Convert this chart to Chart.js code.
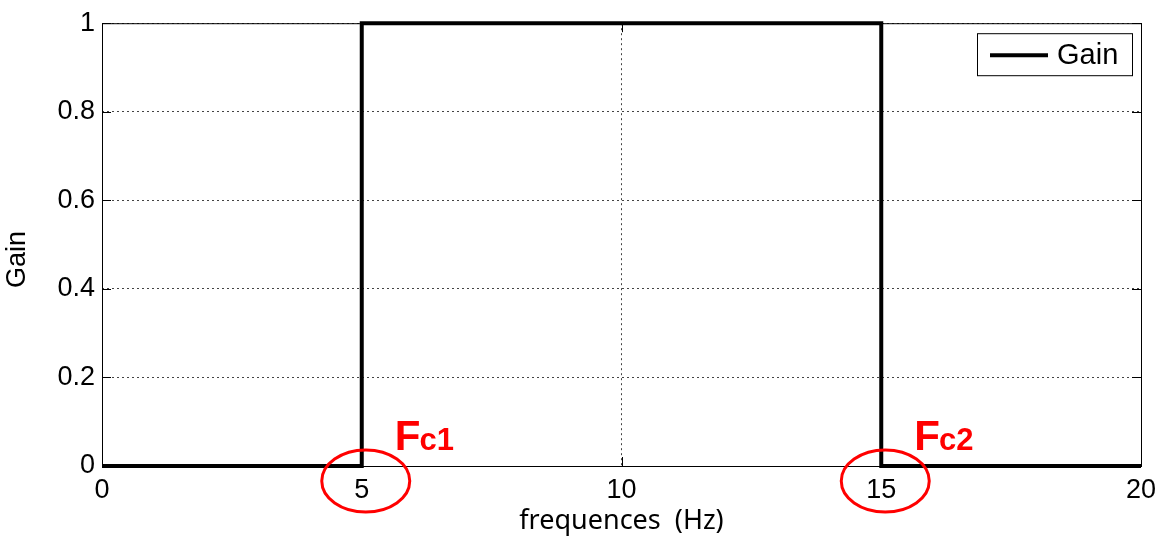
<!DOCTYPE html>
<html>
<head>
<meta charset="utf-8">
<script src="https://cdn.jsdelivr.net/npm/chart.js@4.4.0/dist/chart.umd.min.js"></script>
<style>
  html, body { margin: 0; padding: 0; background: #fff; }
  #wrap { width: 1170px; height: 538px; }
</style>
</head>
<body>
<div id="wrap"><canvas id="gain-chart"></canvas></div>
<script>
// Band-pass filter response (ideal)
const freqs = [0, 5, 5, 15, 15, 20];
const gains = [0, 0, 1, 1, 0, 0];
const xTicks = [0, 5, 10, 15, 20];
const yTicks = [0, 0.2, 0.4, 0.6, 0.8, 1];
const cutoffs = [
    { freq: 5, name: 'F', sub: 'c1' },
    { freq: 15, name: 'F', sub: 'c2' }
];

const FONT = '"Liberation Sans", Arial, sans-serif';

// Legend box drawn inside the plot, MATLAB style
const legendBox = {
    id: 'legendBox',
    afterDatasetsDraw(chart) {
        const ctx = chart.ctx;
        const area = chart.chartArea;
        const x = area.right - 164, y = area.top + 10, w = 155, h = 42;
        ctx.save();
        ctx.fillStyle = '#fff';
        ctx.fillRect(x, y, w, h);
        ctx.strokeStyle = '#000';
        ctx.lineWidth = 1;
        ctx.strokeRect(x + 0.5, y + 0.5, w, h);
        ctx.lineWidth = 4;
        ctx.beginPath();
        ctx.moveTo(x + 13, y + 22);
        ctx.lineTo(x + 71, y + 22);
        ctx.stroke();
        ctx.fillStyle = '#000';
        ctx.font = '29px ' + FONT;
        ctx.textBaseline = 'middle';
        ctx.fillText(chart.data.datasets[0].label, x + 80, y + 23);
        ctx.restore();
    }
};

// Red circles and Fc labels around cut-off frequencies
const cutoffMarks = {
    id: 'cutoffMarks',
    afterDraw(chart) {
        const ctx = chart.ctx;
        const xs = chart.scales.x;
        const ys = chart.scales.y;
        const y0 = ys.getPixelForValue(0);
        ctx.save();
        cutoffs.forEach(c => {
            const px = xs.getPixelForValue(c.freq);
            ctx.strokeStyle = '#ff0000';
            ctx.lineWidth = 3;
            ctx.beginPath();
            ctx.ellipse(px + 4, y0 + 15, 44, 31, 0, 0, Math.PI * 2);
            ctx.stroke();
            ctx.fillStyle = '#ff0000';
            ctx.textBaseline = 'alphabetic';
            ctx.font = 'bold 42px "Liberation Sans Narrow", ' + FONT;
            ctx.fillText(c.name, px + 33, y0 - 16);
            const fw = ctx.measureText(c.name).width;
            ctx.font = 'bold 31px "Liberation Sans Narrow", ' + FONT;
            ctx.fillText(c.sub, px + 32 + fw, y0 - 16);
        });
        ctx.restore();
    }
};

// Solid frame with small inward tick marks
const frame = {
    id: 'frame',
    beforeDatasetsDraw(chart) {
        const a = chart.chartArea;
        const c = chart.ctx;
        const xs = chart.scales.x;
        const ys = chart.scales.y;
        c.save();
        c.strokeStyle = '#000';
        c.lineWidth = 1;
        c.strokeRect(a.left + 0.5, a.top + 0.5, a.right - a.left, a.bottom - a.top);
        c.beginPath();
        xTicks.forEach(v => {
            const px = Math.round(xs.getPixelForValue(v)) + 0.5;
            c.moveTo(px, a.bottom); c.lineTo(px, a.bottom - 9);
            c.moveTo(px, a.top); c.lineTo(px, a.top + 9);
        });
        yTicks.forEach(v => {
            const py = Math.round(ys.getPixelForValue(v)) + 0.5;
            c.moveTo(a.left, py); c.lineTo(a.left + 9, py);
            c.moveTo(a.right, py); c.lineTo(a.right - 9, py);
        });
        c.stroke();
        c.restore();
    }
};

const ctx = document.getElementById('gain-chart').getContext('2d');
new Chart(ctx, {
    type: 'line',
    data: {
        datasets: [{
            label: 'Gain',
            data: freqs.map((f, i) => ({ x: f, y: gains[i] })),
            borderColor: '#000',
            borderWidth: 4,
            pointRadius: 0,
            fill: false,
            tension: 0,
            clip: false
        }]
    },
    options: {
        responsive: true,
        maintainAspectRatio: false,
        animation: false,
        layout: { padding: { top: 21, right: 29, left: 0, bottom: 0 } },
        plugins: {
            legend: { display: false },
            tooltip: { enabled: false }
        },
        scales: {
            x: {
                type: 'linear',
                min: 0,
                max: 20,
                afterBuildTicks: s => { s.ticks = xTicks.map(v => ({ value: v })); },
                afterFit: s => { s.height = 72; },
                border: { display: false, dash: [2, 3] },
                grid: {
                    color: '#444',
                    lineWidth: 1,
                    drawTicks: false
                },
                ticks: {
                    color: '#000',
                    font: { family: FONT, size: 27 },
                    padding: 8,
                    maxRotation: 0,
                    callback: v => String(v)
                },
                title: {
                    display: true,
                    text: 'frequences  (Hz)',
                    color: '#000',
                    font: { family: '"Noto Sans", ' + FONT, size: 27 },
                    padding: { top: 0, bottom: 0 }
                }
            },
            y: {
                min: 0,
                max: 1,
                afterBuildTicks: s => { s.ticks = yTicks.map(v => ({ value: v })); },
                afterFit: s => { s.width = 102; },
                border: { display: false, dash: [2, 3] },
                grid: {
                    color: '#444',
                    lineWidth: 1,
                    drawTicks: false
                },
                ticks: {
                    color: '#000',
                    font: { family: FONT, size: 27 },
                    padding: 7,
                    callback: v => String(v)
                },
                title: {
                    display: true,
                    text: 'Gain    ',
                    color: '#000',
                    font: { family: FONT, size: 27 },
                    padding: { top: 1, bottom: 0 }
                }
            }
        }
    },
    plugins: [frame, legendBox, cutoffMarks]
});
</script>
</body>
</html>
